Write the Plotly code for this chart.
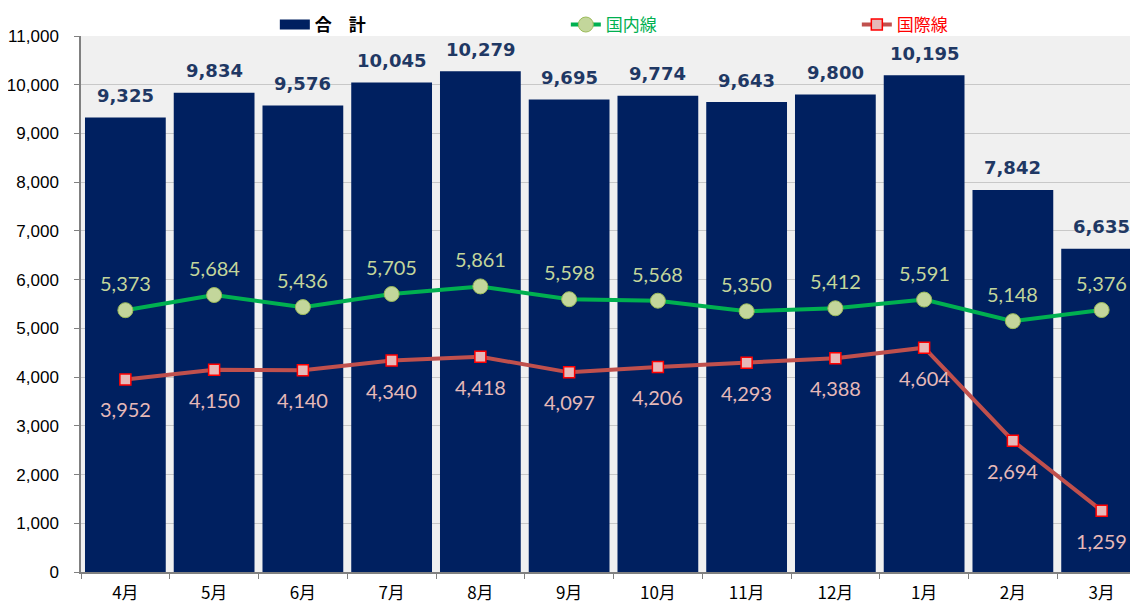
import plotly.graph_objects as go

months = ["4月", "5月", "6月", "7月", "8月", "9月", "10月", "11月", "12月", "1月", "2月", "3月"]
total = [9325, 9834, 9576, 10045, 10279, 9695, 9774, 9643, 9800, 10195, 7842, 6635]
domestic = [5373, 5684, 5436, 5705, 5861, 5598, 5568, 5350, 5412, 5591, 5148, 5376]
international = [3952, 4150, 4140, 4340, 4418, 4097, 4206, 4293, 4388, 4604, 2694, 1259]
y_ticks = list(range(0, 11001, 1000))

fig = go.Figure()
fig.add_trace(go.Bar(
    x=months, y=total, name="合計", showlegend=False,
    marker=dict(color="#002060", line=dict(width=0)),
))
# legend-only entry mimicking the wide bar swatch
fig.add_trace(go.Scatter(
    x=[None], y=[None], mode="lines", name="<b>合　計</b>",
    line=dict(color="#002060", width=11),
))
fig.add_trace(go.Scatter(
    x=months, y=domestic, name="<span style='color:#00b050'>国内線</span>",
    mode="lines+markers",
    line=dict(color="#00b050", width=4),
    marker=dict(symbol="circle", size=15, color="#c3d69b", line=dict(color="#9bbb59", width=1)),
    cliponaxis=False,
))
fig.add_trace(go.Scatter(
    x=months, y=international, name="<span style='color:#ff0000'>国際線</span>",
    mode="lines+markers",
    line=dict(color="#c0504d", width=4),
    marker=dict(symbol="square", size=11, color="#e6b9b8", line=dict(color="#ff0000", width=1.5)),
    cliponaxis=False,
))

annotations = []
for m, v in zip(months, total):
    annotations.append(dict(
        x=m, y=v, text=f"<b>{v:,}</b>", showarrow=False, yanchor="middle", yshift=22,
        font=dict(family="DejaVu Sans", size=18, color="#1f3864"),
    ))
for m, v in zip(months, domestic):
    annotations.append(dict(
        x=m, y=v, text=f"{v:,}", showarrow=False, yanchor="middle", yshift=27,
        font=dict(family="Lato", size=20, color="#c3d69b"),
    ))
for m, v in zip(months, international):
    annotations.append(dict(
        x=m, y=v, text=f"{v:,}", showarrow=False, yanchor="middle", yshift=-30,
        font=dict(family="Lato", size=20, color="#e6b9b8"),
    ))

fig.update_layout(
    width=1138, height=605,
    margin=dict(l=73, r=0, t=28, b=41, autoexpand=False),
    paper_bgcolor="white", plot_bgcolor="#f0f0f0",
    bargap=0.09,
    font=dict(family="Liberation Sans, Noto Sans CJK JP", size=15, color="black"),
    showlegend=True,
    annotations=annotations,
    legend=dict(
        orientation="h", x=0.182, xanchor="left", y=0.987, yanchor="bottom",
        entrywidth=246, entrywidthmode="pixels",
        font=dict(family="Noto Sans CJK JP", size=17, color="black"),
        bgcolor="rgba(0,0,0,0)", traceorder="normal",
    ),
    xaxis=dict(
        type="category", range=[-0.5, len(months) - 0.5],
        showgrid=False, showline=True, linecolor="#808080", linewidth=1.5,
        ticks="outside", tickson="boundaries", ticklen=5, tickcolor="#808080",
        tickfont=dict(family="Noto Sans CJK JP", size=17, color="black"),
        ticklabelstandoff=5,
        automargin=False,
    ),
    yaxis=dict(
        range=[0, 11000], tickvals=y_ticks, ticktext=[f"{v:,}" for v in y_ticks],
        showgrid=True, gridcolor="#c8c8c8", gridwidth=1,
        showline=True, linecolor="#808080", linewidth=1.5,
        ticks="outside", ticklen=5, tickcolor="#808080", zeroline=False,
        tickfont=dict(family="Liberation Sans", size=17, color="black"),
        ticklabelstandoff=12,
        automargin=False,
    ),
)

fig.write_html("out.html")
